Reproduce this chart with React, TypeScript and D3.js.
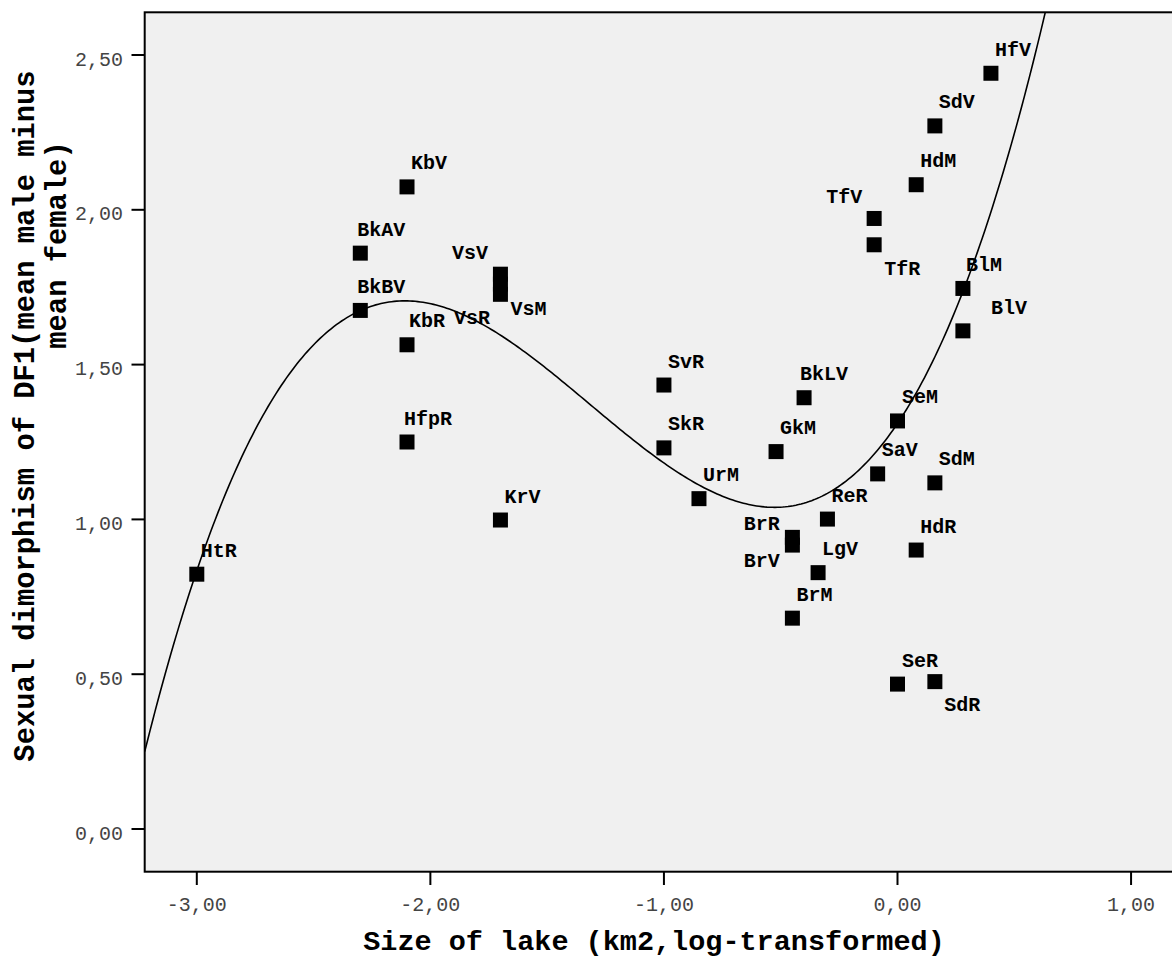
import React from "react";
import * as d3 from "d3";

// ---- data ----
const sampleLabels = [
  "HtR", "BkAV", "BkBV", "KbV", "KbR", "HfpR", "VsV", "VsM", "VsR", "KrV",
  "SvR", "SkR", "UrM", "GkM", "BkLV", "BrR", "BrV", "BrM", "LgV", "ReR",
  "SaV", "SeM", "SdM", "HdR", "SeR", "SdR", "TfV", "TfR", "HdM", "SdV",
  "HfV", "BlM", "BlV",
];
const lakeSize = [
  -3.0, -2.3, -2.3, -2.1, -2.1, -2.1, -1.7, -1.7, -1.7, -1.7,
  -1.0, -1.0, -0.85, -0.52, -0.4, -0.45, -0.45, -0.45, -0.34, -0.3,
  -0.085, 0.0, 0.16, 0.08, 0.0, 0.16, -0.1, -0.1, 0.08, 0.16,
  0.4, 0.28, 0.28,
];
const dimorphism = [
  0.823, 1.86, 1.675, 2.074, 1.564, 1.25, 1.792, 1.76, 1.727, 0.998,
  1.434, 1.231, 1.067, 1.219, 1.393, 0.942, 0.917, 0.681, 0.828, 1.001,
  1.147, 1.318, 1.118, 0.901, 0.468, 0.476, 1.972, 1.887, 2.081, 2.271,
  2.441, 1.746, 1.609,
];
// cubic fit: y = c0 + c1 x + c2 x^2 + c3 x^3
const fitCoefficients = [1.31, 1.1222, 1.331, 0.3366];
const xTicks = [-3, -2, -1, 0, 1];
const yTicks = [0, 0.5, 1, 1.5, 2, 2.5];
const xTitle = "Size of lake (km2,log-transformed)";
const yTitleLines = ["Sexual dimorphism of DF1(mean male minus", "mean female)"];

// ---- label placement (styling) ----
type Place = { dx: number; dy: number; anchor: "start" | "end" };
const defaultPlace: Place = { dx: 4, dy: -17.5, anchor: "start" };
const labelPlacement: Record<string, Partial<Place>> = {
  BkAV: { dx: -3 },
  BkBV: { dx: -3 },
  HfpR: { dx: -3 },
  KbR: { dx: 2 },
  BkLV: { dx: -4 },
  TfV: { dx: -12, dy: -15.5, anchor: "end" },
  TfR: { dx: 10, dy: 30 },
  BlV: { dx: 28, dy: -17 },
  BlM: { dx: 3 },
  VsV: { dx: -12.5, dy: -15, anchor: "end" },
  VsM: { dx: 10, dy: 31 },
  VsR: { dx: -10.5, dy: 30, anchor: "end" },
  BrR: { dx: -12.7, dy: -7.5, anchor: "end" },
  BrV: { dx: -12.7, dy: 21.7, anchor: "end" },
  SdR: { dx: 9.5, dy: 29.5 },
  SeM: { dx: 4.6 },
  SeR: { dx: 4.6 },
};

const W = 1172;
const H = 959;
const plotLeft = 144.7;
const plotTop = 12.3;
const plotBottom = 871.7;
const plotRightDrawn = 1195;

const mono = "'Liberation Mono', 'Courier New', 'DejaVu Sans Mono', monospace";

const fmt = (v: number) => v.toFixed(2).replace(".", ",");

export default function App() {
  const x = d3.scaleLinear().domain([-3, 0]).range([196.8, 897.5]);
  const y = d3.scaleLinear().domain([0, 2.5]).range([829, 55]);

  const xMin = x.invert(plotLeft);
  const xMax = x.invert(plotRightDrawn);
  const fit = (v: number) =>
    fitCoefficients[0] +
    fitCoefficients[1] * v +
    fitCoefficients[2] * v * v +
    fitCoefficients[3] * v * v * v;
  const curveXs = d3.range(0, 401).map((i) => xMin + ((xMax - xMin) * i) / 400);
  const line = d3
    .line<number>()
    .x((v) => x(v))
    .y((v) => y(fit(v)))
    .curve(d3.curveLinear);

  const points = sampleLabels.map((name, i) => ({
    name,
    xv: lakeSize[i],
    yv: dimorphism[i],
  }));

  const markerSize = 15;

  return (
    <svg
      width={W}
      height={H}
      style={{ position: "absolute", left: 0, top: 0, background: "#fff" }}
    >
      <defs>
        <clipPath id="plotClip">
          <rect
            x={plotLeft}
            y={plotTop}
            width={plotRightDrawn - plotLeft}
            height={plotBottom - plotTop}
          />
        </clipPath>
      </defs>
      <rect
        x={plotLeft}
        y={plotTop}
        width={plotRightDrawn - plotLeft}
        height={plotBottom - plotTop}
        fill="#f0f0f0"
      />
      <g clipPath="url(#plotClip)">
        <path d={line(curveXs) || ""} fill="none" stroke="#000" strokeWidth={1.6} />
        {points.map((p) => (
          <rect
            key={p.name}
            x={x(p.xv) - markerSize / 2}
            y={y(p.yv) - markerSize / 2}
            width={markerSize}
            height={markerSize}
            fill="#000"
          />
        ))}
        {points.map((p) => {
          const pl = { ...defaultPlace, ...(labelPlacement[p.name] || {}) };
          return (
            <text
              key={"l" + p.name}
              x={x(p.xv) + pl.dx}
              y={y(p.yv) + pl.dy}
              textAnchor={pl.anchor}
              fontFamily={mono}
              fontWeight="bold"
              fontSize={20}
              fill="#000"
            >
              {p.name}
            </text>
          );
        })}
      </g>
      <rect
        x={plotLeft}
        y={plotTop}
        width={plotRightDrawn - plotLeft}
        height={plotBottom - plotTop}
        fill="none"
        stroke="#000"
        strokeWidth={2}
      />
      {/* y axis ticks */}
      {yTicks.map((t) => (
        <g key={"yt" + t}>
          <line x1={131.5} x2={plotLeft} y1={y(t)} y2={y(t)} stroke="#000" strokeWidth={2} />
          <text
            x={123}
            y={y(t) + 10.5}
            textAnchor="end"
            fontFamily={mono}
            fontSize={20}
            fill="#444"
          >
            {fmt(t)}
          </text>
        </g>
      ))}
      {/* x axis ticks */}
      {xTicks.map((t) => (
        <g key={"xt" + t}>
          <line x1={x(t)} x2={x(t)} y1={plotBottom} y2={885} stroke="#000" strokeWidth={2} />
          <text
            x={x(t)}
            y={910.5}
            textAnchor="middle"
            fontFamily={mono}
            fontSize={20}
            fill="#444"
          >
            {fmt(t)}
          </text>
        </g>
      ))}
      <text
        x={654}
        y={950}
        textAnchor="middle"
        fontFamily={mono}
        fontWeight="bold"
        fontSize={28.5}
        fill="#000"
      >
        {xTitle}
      </text>
      <text
        transform="translate(33.5,416) rotate(-90)"
        textAnchor="middle"
        fontFamily={mono}
        fontWeight="bold"
        fontSize={28.8}
        fill="#000"
      >
        {yTitleLines[0]}
      </text>
      <text
        transform="translate(65.5,245) rotate(-90)"
        textAnchor="middle"
        fontFamily={mono}
        fontWeight="bold"
        fontSize={28.8}
        fill="#000"
      >
        {yTitleLines[1]}
      </text>
    </svg>
  );
}
